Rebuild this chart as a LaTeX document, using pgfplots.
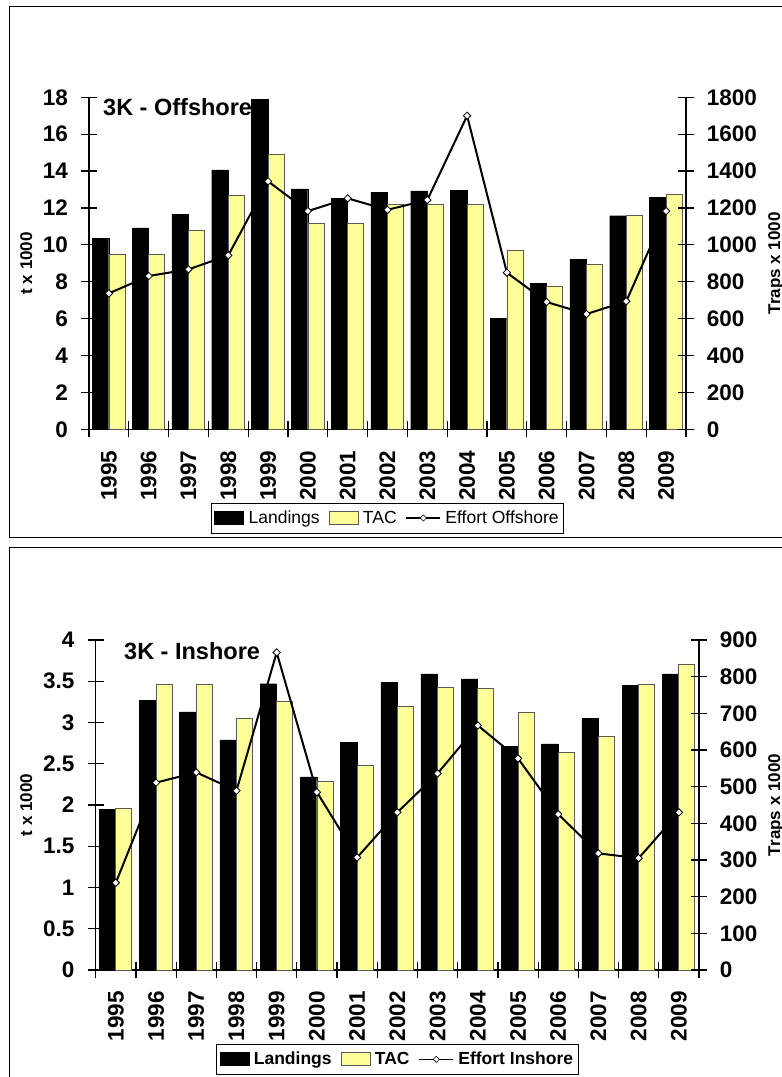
\documentclass[border=0pt]{standalone}
\usepackage{fontspec}
\setmainfont{Liberation Sans}
\usepackage{pgfplots}
\pgfplotsset{compat=1.18}
\definecolor{tacyellow}{RGB}{255,255,153}
\definecolor{tacedge}{RGB}{90,90,90}
\newcommand{\tickfont}{\fontsize{22.5}{22.5}\selectfont\bfseries}
\newcommand{\titlefont}{\fontsize{23.5}{23.5}\selectfont\bfseries}
\newcommand{\labfont}{\fontsize{17}{17}\selectfont\bfseries}
\pgfplotsset{
  swatch legend/.style={legend image code/.code={\draw[##1] (0pt,-6.5pt) rectangle (29pt,6.5pt);}},
  effort legend/.style={legend image code/.code={\draw[##1,mark repeat=2,mark phase=2] plot coordinates {(0pt,0pt) (17pt,0pt) (34pt,0pt)};}},
  baseax/.style={
    scale only axis,
    xmin=-0.5, xmax=14.5,
    ymin=0,
    tick align=center,
    major tick length=16pt,
    minor tick length=16pt,
    tick style={black, line width=1.2pt},
    axis line style={line width=1.3pt},
    /pgf/number format/assume math mode=true,
    /pgf/number format/1000 sep={},
    scaled y ticks=false,
    tick label style={font=\tickfont, inner sep=0pt},
    clip=false,
  },
  leftax/.style={baseax,
    axis x line*=bottom, axis y line*=left,
    xtick={0,...,14},
    xticklabels={1995,1996,1997,1998,1999,2000,2001,2002,2003,2004,2005,2006,2007,2008,2009},
    major x tick style={draw=none},
    minor xtick={-0.5,0.5,...,14.5},
    xticklabel style={rotate=90, anchor=east},
    xticklabel shift=13pt,
    yticklabel shift=13pt,
  },
  rightax/.style={baseax,
    axis x line=none, xtick=\empty,
    axis y line*=right,
    yticklabel pos=right,
    yticklabel style={anchor=west},
    yticklabel shift=12.7pt,
    legend columns=3,
    legend cell align=left,
    legend style={draw=black, line width=0.8pt, inner xsep=3pt, inner ysep=2.5pt,
      nodes={inner xsep=2pt, inner ysep=5.5pt},
      /tikz/every odd column/.append style={column sep=2.5pt},
      /tikz/every even column/.append style={column sep=7pt}},
  },
  landbar/.style={ybar, bar width=16.4pt, bar shift=-8.4pt, fill=black, draw=black},
  tacbar/.style={ybar, bar width=16.0pt, bar shift=8.0pt, fill=tacyellow, draw=tacedge, line width=0.8pt},
  effortline/.style={black, line width=2pt, mark=square*, mark size=2.6pt,
    mark options={rotate=45, fill=white, draw=black, line width=0.8pt}},
}
\begin{document}
\begin{tikzpicture}[x=1pt,y=1pt]
% panel frames
\draw[line width=1.2pt] (9.5,539.7) rectangle (830,1070.5);
\draw[line width=1.2pt] (9.5,-30) rectangle (830,529.5);

% ===== Top: 3K Offshore =====
\begin{axis}[leftax, at={(89pt,647.7pt)}, anchor=south west, width=597pt, height=332pt,
  ymax=18, ytick={0,2,4,6,8,10,12,14,16,18}]
\node[anchor=base west, inner sep=0pt, font=\titlefont] at ([xshift=14pt,yshift=-18.7pt]rel axis cs:0,1) {3K - Offshore};
\addplot[landbar] coordinates {(0,10.35) (1,10.92) (2,11.66) (3,14.06) (4,17.9) (5,13.03) (6,12.53) (7,12.85) (8,12.92) (9,12.95) (10,6.0) (11,7.93) (12,9.22) (13,11.58) (14,12.56)};
\addplot[tacbar] coordinates {(0,9.5) (1,9.5) (2,10.81) (3,12.69) (4,14.9) (5,11.17) (6,11.17) (7,12.18) (8,12.18) (9,12.18) (10,9.72) (11,7.73) (12,8.93) (13,11.6) (14,12.74)};
\node[rotate=90, anchor=north, inner sep=0pt, font=\labfont] at ([xshift=-69pt]rel axis cs:0,0.5) {t x 1000};
\end{axis}
\begin{axis}[rightax, at={(89pt,647.7pt)}, anchor=south west, width=597pt, height=332pt,
  ymax=1800, ytick={0,200,400,600,800,1000,1200,1400,1600,1800},
  legend style={at={(0.5,0)}, anchor=center, yshift=-88.7pt, font=\fontsize{17.5}{18}\selectfont}]
\addlegendimage{swatch legend, fill=black, draw=black}
\addlegendentry{Landings}
\addlegendimage{swatch legend, fill=tacyellow, draw=tacedge, line width=0.8pt}
\addlegendentry{TAC}
\addlegendimage{effort legend, black, line width=1.3pt, mark=square*, mark size=2.2pt, mark options={rotate=45, fill=white, line width=0.6pt}}
\addlegendentry{Effort Offshore}
\addplot[effortline, forget plot] coordinates {(0,737) (1,831) (2,867) (3,943) (4,1344) (5,1183) (6,1252) (7,1190) (8,1243) (9,1700) (10,849) (11,690) (12,625) (13,694) (14,1183)};
\node[rotate=90, anchor=north, inner sep=0pt, font=\labfont] at ([xshift=82pt]rel axis cs:1,0.5) {Traps x 1000};
\end{axis}

% ===== Bottom: 3K Inshore =====
\begin{axis}[leftax, at={(95.7pt,107pt)}, anchor=south west, width=603.3pt, height=330pt,
  ymax=4, ytick={0,0.5,1,1.5,2,2.5,3,3.5,4}]
\node[anchor=base west, inner sep=0pt, font=\titlefont] at ([xshift=28.3pt,yshift=-19.3pt]rel axis cs:0,1) {3K - Inshore};
\addplot[landbar] coordinates {(0,1.95) (1,3.27) (2,3.13) (3,2.79) (4,3.47) (5,2.34) (6,2.76) (7,3.49) (8,3.59) (9,3.53) (10,2.71) (11,2.74) (12,3.05) (13,3.45) (14,3.59)};
\addplot[tacbar] coordinates {(0,1.96) (1,3.46) (2,3.46) (3,3.05) (4,3.25) (5,2.28) (6,2.48) (7,3.19) (8,3.43) (9,3.41) (10,3.12) (11,2.64) (12,2.83) (13,3.46) (14,3.71)};
\node[rotate=90, anchor=north, inner sep=0pt, font=\labfont] at ([xshift=-75.7pt]rel axis cs:0,0.5) {t x 1000};
\end{axis}
\begin{axis}[rightax, at={(95.7pt,107pt)}, anchor=south west, width=603.3pt, height=330pt,
  ymax=900, ytick={0,100,200,300,400,500,600,700,800,900},
  legend style={at={(0.5,0)}, anchor=center, yshift=-89.3pt, font=\fontsize{17.5}{18}\selectfont\bfseries}]
\addlegendimage{swatch legend, fill=black, draw=black}
\addlegendentry{Landings}
\addlegendimage{swatch legend, fill=tacyellow, draw=tacedge, line width=0.8pt}
\addlegendentry{TAC}
\addlegendimage{effort legend, black, line width=1.3pt, mark=square*, mark size=2.2pt, mark options={rotate=45, fill=white, line width=0.6pt}}
\addlegendentry{Effort Inshore}
\addplot[effortline, forget plot] coordinates {(0,238) (1,511) (2,539) (3,489) (4,866) (5,485) (6,307) (7,430) (8,536) (9,667) (10,577) (11,425) (12,318) (13,305) (14,430)};
\node[rotate=90, anchor=north, inner sep=0pt, font=\labfont] at ([xshift=69pt]rel axis cs:1,0.5) {Traps x 1000};
\end{axis}

\pgfresetboundingbox
\path[use as bounding box] (0,0) rectangle (782,1077);
\end{tikzpicture}
\end{document}
